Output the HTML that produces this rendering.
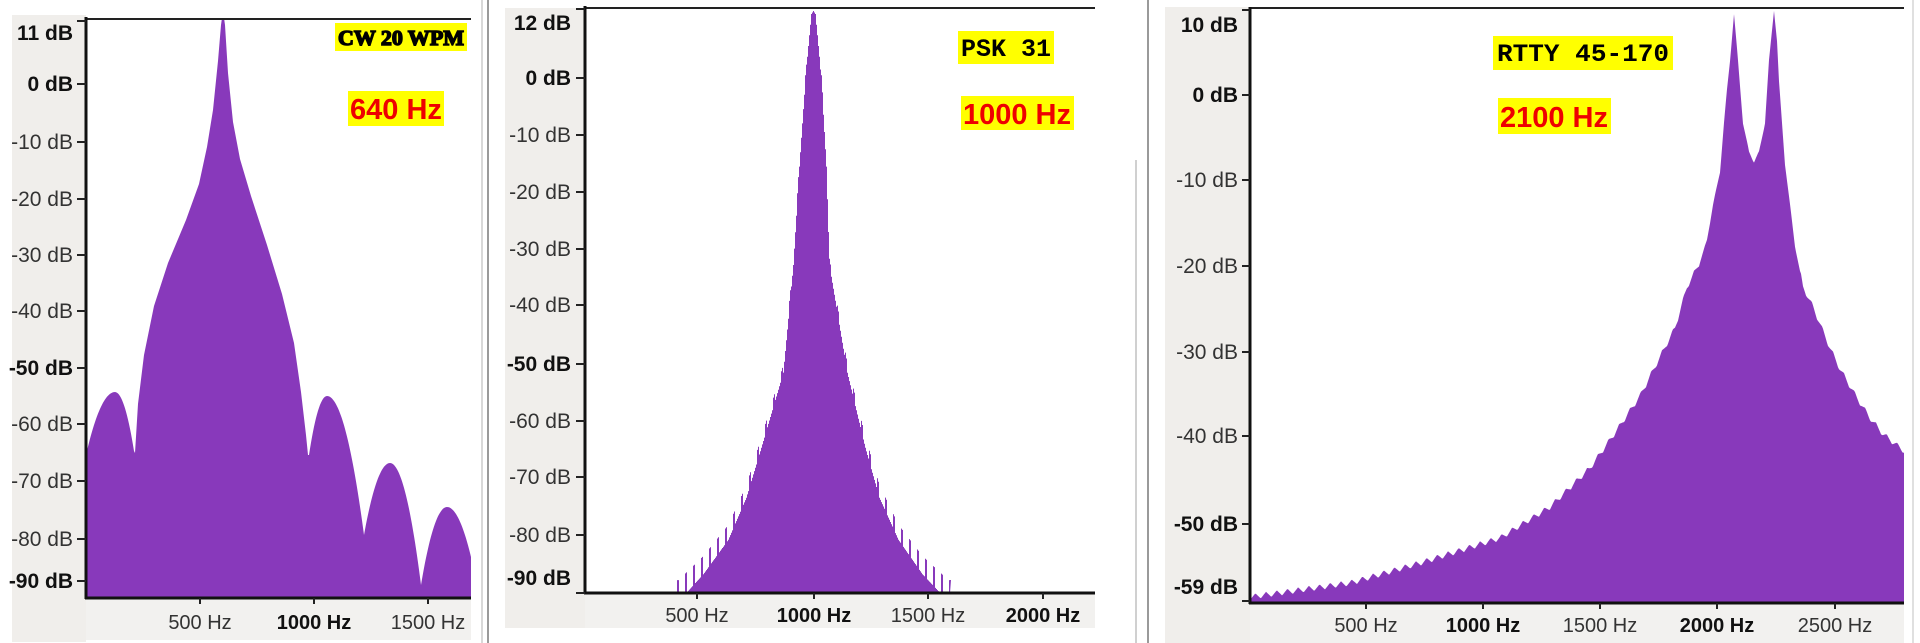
<!DOCTYPE html>
<html><head><meta charset="utf-8">
<style>
html,body{margin:0;padding:0;background:#fff;width:1920px;height:643px;overflow:hidden}
svg{display:block}
</style></head>
<body>
<svg id="s" width="1920" height="643" viewBox="0 0 1920 643" xmlns="http://www.w3.org/2000/svg" font-family="Liberation Sans, sans-serif">
<rect x="12" y="15" width="74" height="627" fill="#f0eeeb"/>
<rect x="86" y="598" width="385" height="42" fill="#f2f1ef"/>
<rect x="505" y="8" width="80" height="620" fill="#f0eeeb"/>
<rect x="585" y="593" width="510" height="35" fill="#f2f1ef"/>
<rect x="1165" y="7" width="85" height="636" fill="#f0eeeb"/>
<rect x="1250" y="603" width="654" height="40" fill="#f2f1ef"/>
<rect x="86" y="19" width="385" height="579" fill="#fff"/>
<rect x="585" y="8" width="510" height="585" fill="#fff"/>
<rect x="1250" y="8" width="654" height="595" fill="#fff"/>
<line x1="482" y1="0" x2="482" y2="643" stroke="#d8d8d8" stroke-width="2"/>
<line x1="488" y1="0" x2="488" y2="643" stroke="#9a9a9a" stroke-width="2"/>
<line x1="1136" y1="160" x2="1136" y2="643" stroke="#d0d0d0" stroke-width="2"/>
<line x1="1148" y1="0" x2="1148" y2="643" stroke="#9a9a9a" stroke-width="2"/>
<line x1="1913" y1="0" x2="1913" y2="643" stroke="#e0e0e0" stroke-width="2"/>
<g id="g"></g>
</svg>
<script>
var NS="http://www.w3.org/2000/svg",G=document.getElementById("g");
var P="#8839bb";
function el(t,a,txt){var e=document.createElementNS(NS,t);for(var k in a)e.setAttribute(k,a[k]);if(txt!=null)e.textContent=txt;G.appendChild(e);return e;}
function interp(pts,x){for(var i=0;i<pts.length-1;i++){var a=pts[i],b=pts[i+1];if(x>=a[0]&&x<=b[0]){var t=(x-a[0])/((b[0]-a[0])||1);return a[1]+(b[1]-a[1])*t;}}return pts[pts.length-1][1];}
// ---- Panel 1 ----
(function(){
 var base=598,pts=[];
 function arch(x0,xp,x1,y0,yp,y1){for(var x=x0;x<=x1;x+=1){var u,y;if(x<=xp){u=(xp-x)/(xp-x0);y=yp+(y0-yp)*u*u;}else{u=(x-xp)/(x1-xp);y=yp+(y1-yp)*u*u;}pts.push([x,y]);}}
 arch(86,115,134,455,392,451);
 var main=[[135,453],[138,404],[144,355],[154,306],[168,263],[186,220],[199,184],[207,147],[213,110],[218,61],[221,25],[222,18],[224,18],[225,25],[228,73],[233,122],[240,159],[251,196],[267,245],[282,294],[294,343],[301,392],[306,435],[308,455]];
 main.forEach(function(p){pts.push(p)});
 arch(309,327,364,455,396,535);
 arch(364,390,421,535,463,585);
 arch(421,447,471,585,507,557);
 var d="M86,"+base;pts.forEach(function(p){d+=" L"+p[0].toFixed(1)+","+p[1].toFixed(1)});d+=" L471,"+base+" Z";
 el("path",{d:d,fill:P});
 el("line",{x1:86,y1:19,x2:471,y2:19,stroke:"#222","stroke-width":2});
 el("line",{x1:86,y1:17,x2:86,y2:599,stroke:"#111","stroke-width":3});
 el("line",{x1:85,y1:598,x2:471,y2:598,stroke:"#111","stroke-width":3});
 var yl=[["11 dB",33,1],["0 dB",84,1],["-10 dB",142,0],["-20 dB",199,0],["-30 dB",255,0],["-40 dB",311,0],["-50 dB",368,1],["-60 dB",424,0],["-70 dB",481,0],["-80 dB",539,0],["-90 dB",581,1]];
 yl.forEach(function(l){var ty=l[0]=="11 dB"?21:l[1];el("line",{x1:77,y1:ty,x2:86,y2:ty,stroke:"#222","stroke-width":2});
  el("text",{x:73,y:l[1]+7,"text-anchor":"end","font-size":21,"font-weight":l[2]?"bold":"normal",fill:l[2]?"#111":"#333"},l[0]);});
 [["500 Hz",200,0],["1000 Hz",314,1],["1500 Hz",428,0]].forEach(function(l){el("line",{x1:l[1],y1:598,x2:l[1],y2:604,stroke:"#222","stroke-width":2});
  el("text",{x:l[1],y:629,"text-anchor":"middle","font-size":20,"font-weight":l[2]?"bold":"normal",fill:l[2]?"#111":"#333"},l[0]);});
 el("rect",{x:335,y:23,width:132,height:28,fill:"#ffff00"});
 el("text",{x:401,y:45,"text-anchor":"middle","font-size":21,"font-weight":"bold",style:"font-family:'Liberation Serif',serif",fill:"#000",stroke:"#000","stroke-width":1.4,textLength:126,lengthAdjust:"spacingAndGlyphs"},"CW 20 WPM");
 el("rect",{x:348,y:91,width:96,height:35,fill:"#ffff00"});
 el("text",{x:396,y:119,"text-anchor":"middle","font-size":29,"font-weight":"bold",fill:"#ee0000"},"640 Hz");
})();
// ---- Panel 2 ----
(function(){
 var base=593,c=813;
 var L=[[678,592],[703,566],[728,533],[746,492],[761,443],[783,369],[793,262],[799,164],[805,78],[811,14],[813,11]];
 var R=[[813,11],[815,14],[821,78],[826,164],[829,262],[847,369],[865,443],[879,492],[898,533],[922,566],[948,592]];
 var env=L.concat(R.slice(1));
 var d="M676,"+base;
 for(var x=676;x<=950;x+=1){var y=interp(env,x);var dist=Math.abs(x-c);
  var phase=((x-c)%8+8)%8;var sp=0;
  if(dist>6){var amp=Math.min(24,dist*0.13+4);if(phase<1.5)sp=-amp*0.55;else sp=amp*0.45;}
  var yy=Math.min(base,y+sp);d+=" L"+x+","+yy.toFixed(1)+" L"+(x+1)+","+yy.toFixed(1);}
 d+=" L950,"+base+" Z";
 el("path",{d:d,fill:P});
 el("line",{x1:585,y1:8,x2:1095,y2:8,stroke:"#222","stroke-width":2});
 el("line",{x1:585,y1:6,x2:585,y2:594,stroke:"#111","stroke-width":3});
 el("line",{x1:584,y1:593,x2:1095,y2:593,stroke:"#111","stroke-width":3});
 var yl=[["12 dB",23,1],["0 dB",78,1],["-10 dB",135,0],["-20 dB",192,0],["-30 dB",249,0],["-40 dB",305,0],["-50 dB",364,1],["-60 dB",421,0],["-70 dB",477,0],["-80 dB",535,0],["-90 dB",578,1]];
 yl.forEach(function(l){var ty=l[0]=="12 dB"?9:(l[0]=="-90 dB"?593:l[1]);el("line",{x1:576,y1:ty,x2:585,y2:ty,stroke:"#222","stroke-width":2});
  el("text",{x:571,y:l[1]+7,"text-anchor":"end","font-size":21,"font-weight":l[2]?"bold":"normal",fill:l[2]?"#111":"#333"},l[0]);});
 [["500 Hz",697,0],["1000 Hz",814,1],["1500 Hz",928,0],["2000 Hz",1043,1]].forEach(function(l){el("line",{x1:l[1],y1:593,x2:l[1],y2:599,stroke:"#222","stroke-width":2});
  el("text",{x:l[1],y:622,"text-anchor":"middle","font-size":20,"font-weight":l[2]?"bold":"normal",fill:l[2]?"#111":"#333"},l[0]);});
 el("rect",{x:958,y:31,width:96,height:33,fill:"#ffff00"});
 el("text",{x:1006,y:56,"text-anchor":"middle","font-size":25,"font-weight":"bold",style:"font-family:'Liberation Mono',monospace",fill:"#000"},"PSK 31");
 el("rect",{x:961,y:96,width:113,height:34,fill:"#ffff00"});
 el("text",{x:1017,y:124,"text-anchor":"middle","font-size":29,"font-weight":"bold",fill:"#ee0000"},"1000 Hz");
})();
// ---- Panel 3 ----
(function(){
 var base=603;
 var env=[[1250,597],[1300,590],[1350,583],[1420,563],[1500,538],[1550,507],[1590,468],[1617,430],[1640,396],[1660,357],[1675,328],[1687,287],[1700,262],[1707,240],[1713,205],[1720,172],[1724,123],[1727,90],[1730,61],[1734,14],[1738,61],[1743,123],[1749,152],[1754,162],[1759,152],[1765,123],[1769,61],[1774,10],[1777,41],[1779,82],[1785,164],[1790,205],[1795,246],[1803,287],[1813,307],[1830,348],[1840,369],[1857,398],[1870,418],[1883,434],[1904,451]];
 var d="M1250,"+base;
 for(var x=1250;x<=1904;x+=1){var y=interp(env,x);var ph=((x-1250)%10.7)/10.7;var tri=ph<0.5?ph*2:(1-ph)*2;
  var amp=(x<1700||x>1800)?6:2;var yy=Math.min(base,y+amp*(tri-0.5)*-1);d+=" L"+x+","+yy.toFixed(1);}
 d+=" L1904,"+base+" Z";
 el("path",{d:d,fill:P});
 el("line",{x1:1250,y1:8,x2:1904,y2:8,stroke:"#222","stroke-width":2});
 el("line",{x1:1250,y1:7,x2:1250,y2:604,stroke:"#111","stroke-width":3});
 el("line",{x1:1249,y1:603,x2:1904,y2:603,stroke:"#111","stroke-width":3});
 var yl=[["10 dB",25,1],["0 dB",95,1],["-10 dB",180,0],["-20 dB",266,0],["-30 dB",352,0],["-40 dB",436,0],["-50 dB",524,1],["-59 dB",587,1]];
 yl.forEach(function(l){var ty=l[0]=="10 dB"?10:(l[0]=="-59 dB"?601:l[1]);el("line",{x1:1242,y1:ty,x2:1250,y2:ty,stroke:"#222","stroke-width":2});
  el("text",{x:1238,y:l[1]+7,"text-anchor":"end","font-size":21,"font-weight":l[2]?"bold":"normal",fill:l[2]?"#111":"#333"},l[0]);});
 [["500 Hz",1366,0],["1000 Hz",1483,1],["1500 Hz",1600,0],["2000 Hz",1717,1],["2500 Hz",1835,0]].forEach(function(l){el("line",{x1:l[1],y1:603,x2:l[1],y2:609,stroke:"#222","stroke-width":2});
  el("text",{x:l[1],y:632,"text-anchor":"middle","font-size":20,"font-weight":l[2]?"bold":"normal",fill:l[2]?"#111":"#333"},l[0]);});
 el("rect",{x:1493,y:36,width:180,height:34,fill:"#ffff00"});
 el("text",{x:1583,y:61,"text-anchor":"middle","font-size":25,"font-weight":"bold",style:"font-family:'Liberation Mono',monospace",fill:"#000",textLength:172,lengthAdjust:"spacingAndGlyphs"},"RTTY 45-170");
 el("rect",{x:1498,y:98,width:113,height:36,fill:"#ffff00"});
 el("text",{x:1554,y:127,"text-anchor":"middle","font-size":29,"font-weight":"bold",fill:"#ee0000"},"2100 Hz");
})();
</script>
</body></html>
